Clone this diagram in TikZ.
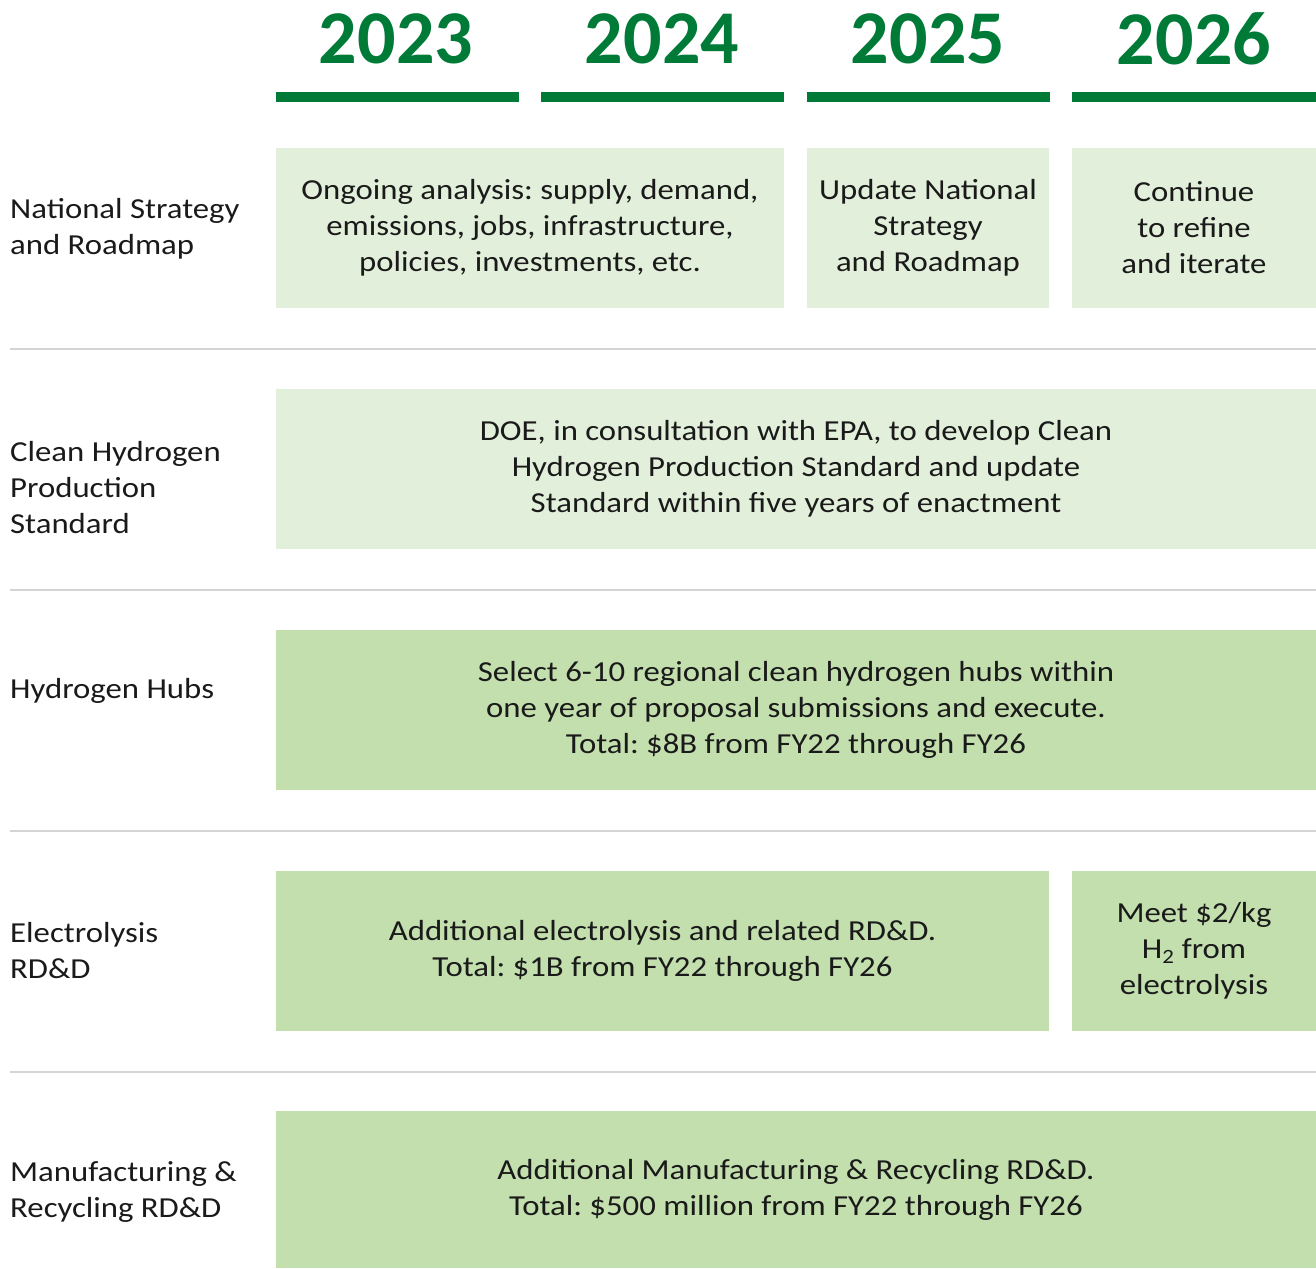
\documentclass[tikz,border=0pt]{standalone}
\usepackage{fontspec}
\setmainfont{Carlito}[FakeStretch=1.13]
\newfontfamily\yearfont{Carlito}
\frenchspacing
\definecolor{dkgreen}{HTML}{007A37}
\definecolor{lightfill}{HTML}{E2EFDA}
\definecolor{midfill}{HTML}{C3DFAE}
\definecolor{sepgray}{HTML}{D4D4D4}
\definecolor{txt}{HTML}{1A1A1A}
\begin{document}
\begin{tikzpicture}[x=1pt,y=-1pt,
  yeartxt/.style={text=dkgreen,font=\yearfont\fontsize{76}{86}\selectfont\bfseries,inner sep=0},
  yearbar/.style={fill=dkgreen,inner sep=0,minimum height=10,minimum width=243},
  boxbase/.style={inner sep=0,align=center,text=txt,font=\fontsize{29}{36}\selectfont},
  lbox/.style={boxbase,fill=lightfill},
  mbox/.style={boxbase,fill=midfill},
  rowlabel/.style={anchor=west,inner sep=0,align=left,text=txt,font=\fontsize{29}{36}\selectfont},
  sep/.style={draw=sepgray,line width=1.5}
]
\useasboundingbox (0,0) rectangle (1316,1268);
% years
\node[yeartxt] (y23) at (396,39) {2023};
\node[yeartxt] (y24) at (662,39) {2024};
\node[yeartxt] (y25) at (928,39) {2025};
\node[yeartxt] (y26) at (1194,39) {2026};
\node[yearbar] (b23) at (397,97) {};
\node[yearbar] (b24) at (662.5,97) {};
\node[yearbar] (b25) at (928,97) {};
\node[yearbar,minimum width=244] (b26) at (1194,97) {};
% separators
\coordinate (s1l) at (10,349); \coordinate (s1r) at (1316,349);
\coordinate (s2l) at (10,590); \coordinate (s2r) at (1316,590);
\coordinate (s3l) at (10,831); \coordinate (s3r) at (1316,831);
\coordinate (s4l) at (10,1072); \coordinate (s4r) at (1316,1072);
\draw[sep] (s1l) -- (s1r);
\draw[sep] (s2l) -- (s2r);
\draw[sep] (s3l) -- (s3r);
\draw[sep] (s4l) -- (s4r);
% row labels
\node[rowlabel] (l1) at (10,229) {National Strategy\\and Roadmap};
\node[rowlabel] (l2) at (10,488) {Clean Hydrogen\\Production\\Standard};
\node[rowlabel] (l3) at (10,691) {Hydrogen Hubs};
\node[rowlabel] (l4) at (10,951) {Electrolysis\\RD\&D};
\node[rowlabel] (l5) at (10,1192) {Manufacturing \&\\Recycling RD\&D};
% row 1
\node[lbox,minimum width=508,minimum height=160] (r1a) at (530,228)
  {Ongoing analysis: supply, demand,\\emissions, jobs, infrastructure,\\policies, investments, etc.};
\node[lbox,minimum width=242,minimum height=160] (r1b) at (928,228)
  {Update National\\Strategy\\and Roadmap};
\node[lbox,minimum width=244,minimum height=160] (r1c) at (1194,228)
  {Continue\\to refine\\and iterate};
% row 2
\node[lbox,minimum width=1040,minimum height=160] (r2) at (796,469)
  {DOE, in consultation with EPA, to develop Clean\\Hydrogen Production Standard and update\\Standard within five years of enactment};
% row 3
\node[mbox,minimum width=1040,minimum height=160] (r3) at (796,710)
  {Select 6-10 regional clean hydrogen hubs within\\one year of proposal submissions and execute.\\Total: \$8B from FY22 through FY26};
% row 4
\node[mbox,minimum width=773,minimum height=160] (r4a) at (662.5,951)
  {Additional electrolysis and related RD\&D.\\Total: \$1B from FY22 through FY26};
\node[mbox,minimum width=244,minimum height=160] (r4b) at (1194,951)
  {Meet \$2/kg\\H\textsubscript{2} from\\electrolysis};
% row 5
\node[mbox,minimum width=1040,minimum height=157] (r5) at (796,1189.5)
  {Additional Manufacturing \& Recycling RD\&D.\\Total: \$500 million from FY22 through FY26};
\end{tikzpicture}
\end{document}
